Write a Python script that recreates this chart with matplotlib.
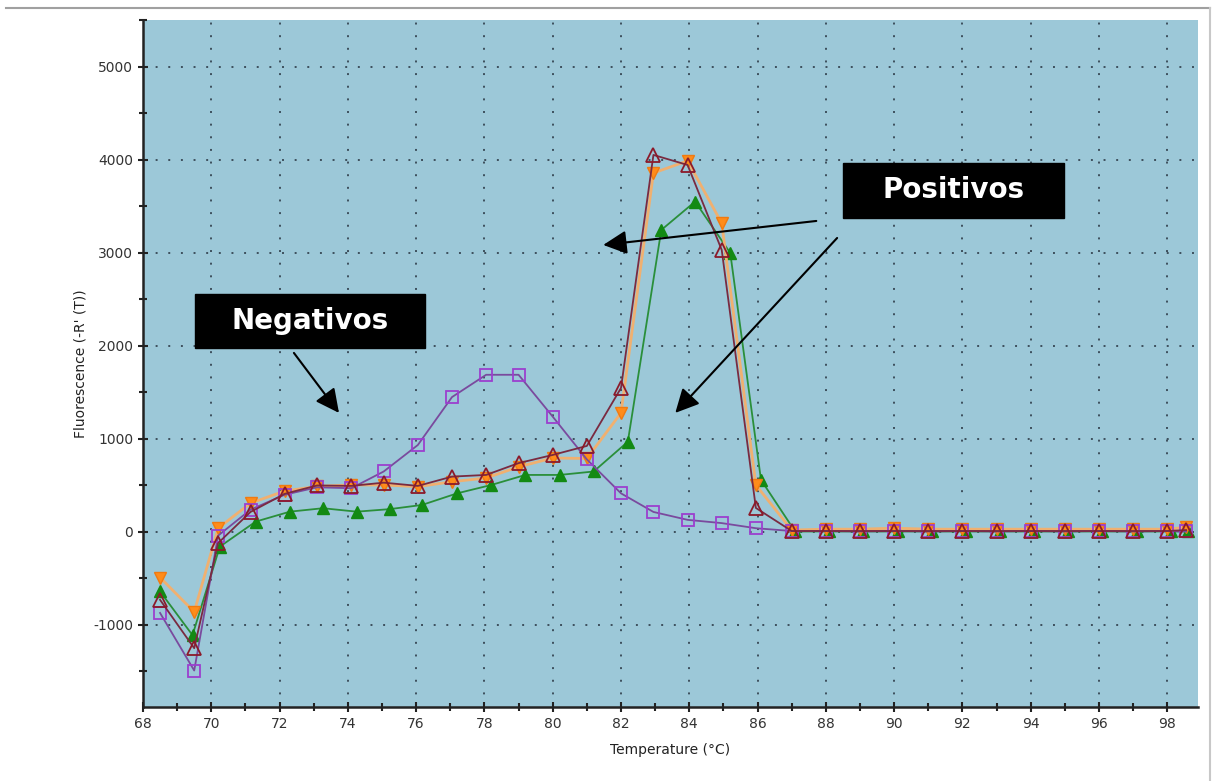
import matplotlib.pyplot as plt
from matplotlib.patches import Rectangle
from matplotlib.lines import Line2D
from matplotlib.ticker import MultipleLocator

plt.rcParams['axes.unicode_minus'] = False

# Temperaturas (°C) de cada pocillo
temp_main = [68.5, 69.5, 70.2, 71.15, 72.15, 73.1, 74.1, 75.05, 76.05, 77.05, 78.05, 79.0,
             80.0, 81.0, 82.0, 82.95, 83.95, 84.95, 85.95, 87.0, 88.0, 89.0, 90.0, 91.0,
             92.0, 93.0, 94.0, 95.0, 96.0, 97.0, 98.0, 98.55]
temp_green = [68.5, 69.45, 70.25, 71.3, 72.3, 73.27, 74.26, 75.22, 76.17, 77.2, 78.2, 79.2,
              80.2, 81.2, 82.2, 83.18, 84.17, 85.2, 86.1, 87.1, 88.1, 89.1, 90.1, 91.1,
              92.1, 93.1, 94.1, 95.1, 96.1, 97.1, 98.1, 98.6]

# Fluorescencia (-R'(T))
negativo = [-871, -1490, -40, 240, 400, 480, 470, 650, 935, 1450, 1690, 1690,
            1240, 780, 415, 215, 130, 95, 40, 10, 10, 5, 10, 5,
            10, 5, 10, 5, 10, 5, 10, 5]
pos_naranja = [-490, -860, 40, 310, 440, 490, 505, 505, 487, 540, 580, 700,
               795, 790, 1280, 3860, 3990, 3320, 505, 20, 30, 30, 40, 30,
               30, 30, 30, 30, 30, 30, 30, 50]
pos_rojo = [-730, -1250, -120, 215, 410, 500, 495, 530, 495, 595, 613, 740,
            828, 925, 1548, 4054, 3946, 3032, 258, 10, 10, 10, 10, 10,
            10, 10, 10, 10, 10, 10, 10, 20]
pos_verde = [-640, -1110, -158, 111, 218, 255, 218, 245, 290, 415, 505, 613,
             613, 650, 970, 3247, 3552, 3000, 560, 5, 5, 5, 5, 5,
             5, 5, 5, 5, 5, 5, 5, 5]

fig = plt.figure(figsize=(12.18, 7.81), dpi=100)
ax = fig.add_axes([0.1174, 0.0948, 0.8662, 0.8796])
ax.set_facecolor('#9cc8d8')

ax.plot(temp_green, pos_verde, color='#2a8f3a', lw=1.3, marker='^', ms=8.5,
        mfc='#138a13', mec='#138a13')
ax.plot(temp_main, pos_naranja, color='#f0b070', lw=2.0, marker='v', ms=8.5,
        mfc='#ff8c1a', mec='#f07a10')
ax.plot(temp_main, negativo, color='#7a4a9e', lw=1.3, marker='s', ms=8.5,
        mfc='none', mec='#9b3fcf', mew=1.3)
ax.plot(temp_main, pos_rojo, color='#7a2a40', lw=1.3, marker='^', ms=9.5,
        mfc='none', mec='#8b1a2a', mew=1.3)

ax.set_xlim(68, 98.9)
ax.set_ylim(-1882, 5505)
ax.xaxis.set_major_locator(MultipleLocator(2))
ax.xaxis.set_minor_locator(MultipleLocator(1))
ax.yaxis.set_major_locator(MultipleLocator(1000))
ax.yaxis.set_minor_locator(MultipleLocator(500))
ax.set_yticks(range(-1000, 5001, 1000))

ax.grid(True, which='major', color='#3d4f5c', lw=1.4, linestyle=(0, (1, 5.5)))
ax.set_axisbelow(True)

for s in ['top', 'right']:
    ax.spines[s].set_visible(False)
for s in ['left', 'bottom']:
    ax.spines[s].set_linewidth(1.8)
    ax.spines[s].set_color('#222222')

ax.tick_params(which='major', direction='inout', length=7, width=1.5,
               labelsize=10, labelcolor='#333333', color='#222222')
ax.tick_params(which='minor', direction='inout', length=6, width=1.5, color='#222222')

ax.set_xlabel('Temperature (°C)', fontsize=10, color='#222222', labelpad=9)
ax.set_ylabel("Fluorescence (-R' (T))", fontsize=10, color='#222222', labelpad=4)

# Recuadros de texto
ax.add_patch(Rectangle((69.52, 1978), 6.74, 581, color='black', zorder=5))
ax.text(72.89, 2268, 'Negativos', color='white', fontsize=20, fontweight='bold',
        ha='center', va='center', zorder=6)
ax.add_patch(Rectangle((88.51, 3376), 6.47, 592, color='black', zorder=5))
ax.text(91.745, 3672, 'Positivos', color='white', fontsize=20, fontweight='bold',
        ha='center', va='center', zorder=6)

# Flechas
props = dict(arrowstyle='-|>,head_length=0.8,head_width=0.4', mutation_scale=18,
             color='black', lw=1.5, shrinkA=0, shrinkB=0)
ax.annotate('', xy=(73.74, 1280), xytext=(72.42, 1925), arrowprops=props, zorder=6)
ax.annotate('', xy=(81.48, 3086), xytext=(87.72, 3344), arrowprops=props, zorder=6)
ax.annotate('', xy=(83.59, 1280), xytext=(88.33, 3161), arrowprops=props, zorder=6)

# Marco de la captura
fig.add_artist(Line2D([6 / 1218, 1210 / 1218], [1 - 8 / 781, 1 - 8 / 781],
                      color='#a0a0a0', lw=1.5))
fig.add_artist(Line2D([1210 / 1218, 1210 / 1218], [0, 1 - 8 / 781],
                      color='#c8c8c8', lw=1.5))

plt.savefig('out.png', dpi=100)
